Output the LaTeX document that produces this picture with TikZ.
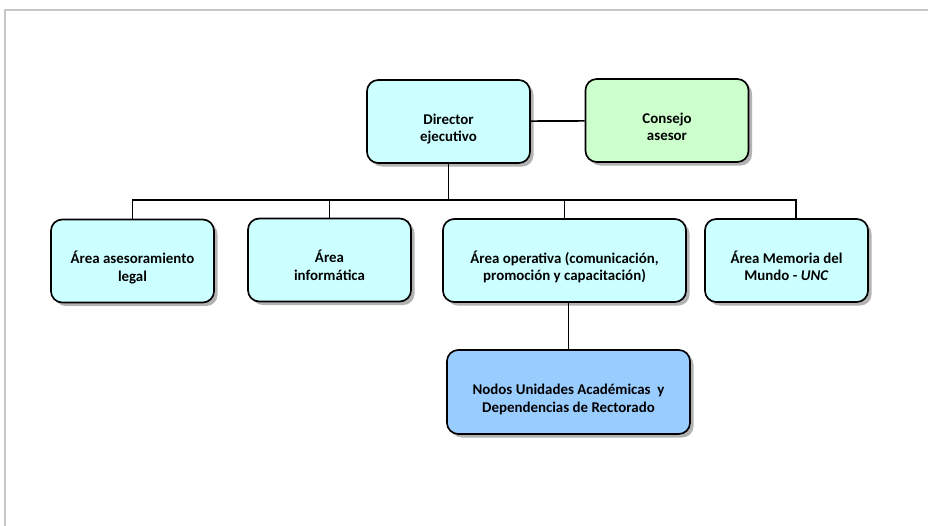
\documentclass[tikz,border=0pt]{standalone}
\usepackage{fontspec}
\setmainfont{Carlito}
\usetikzlibrary{shadows}
\definecolor{cajaazul}{HTML}{CCFFFF}
\definecolor{cajaverde}{HTML}{CCFFCC}
\definecolor{cajanodo}{HTML}{99CCFF}
\begin{document}
\begin{tikzpicture}
  [x=0.025cm,y=-0.025cm,
   every node/.style={rectangle,rounded corners=8pt,draw=black,line width=1.2pt,
     fill=cajaazul,align=center,font=\fontsize{10.6}{12.5}\selectfont\bfseries,
     minimum width=4.075cm,minimum height=2.075cm,
     text height=32pt,text depth=3pt,
     drop shadow={opacity=.6,shadow xshift=2.5pt,shadow yshift=-2.5pt}},
   ancho/.style={minimum width=6.075cm}]
  \useasboundingbox (0,0) rectangle (928,526);
  \draw[gray!45,line width=1.3pt] (5,526) -- (5,10) -- (928,10);

  \node (n1) at (448.5,121.5) {Director\\ejecutivo};
  \node[fill=cajaverde] (n2) at (667,120.5) {Consejo\\asesor};
  \node (n3) at (132.5,261) {Área asesoramiento\\legal};
  \node (n4) at (329.5,260) {Área\\informática};
  \node[ancho] (n5) at (564.5,260.5) {Área operativa (comunicación,\\promoción y capacitación)};
  \node (n6) at (786.5,260.5) {Área Memoria del\\Mundo - \textit{UNC}};
  \node[ancho,fill=cajanodo,minimum height=2.1cm] (n7) at (568.5,392)
    {Nodos Unidades Académicas \ y\\Dependencias de Rectorado};

\coordinate (bar) at (448.5,200);
\draw[line width=1.2pt] (n1) -- (n2);
\draw[line width=1.2pt] (n1.south) -- (bar);
\draw[line width=1.2pt] (n3.north) |- (bar) -| ([xshift=0.24cm]n6.north);
\draw[line width=1.2pt] (n4.north) -- (n4.north |- bar);
\draw[line width=1.2pt] (n5.north) -- (n5.north |- bar);
\draw[line width=1.2pt] (n7.north) -- (n7.north |- n5.south);

\end{tikzpicture}
\end{document}
